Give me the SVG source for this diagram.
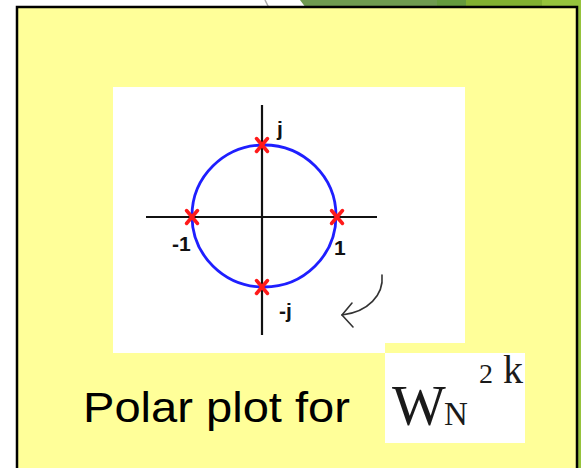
<svg xmlns="http://www.w3.org/2000/svg" width="581" height="468" viewBox="0 0 581 468">
  <style>
    .axis { stroke: #111; stroke-width: 2.2; fill: none; }
    .unit { stroke: #1f1fff; stroke-width: 2.8; fill: none; }
    .mark { stroke: #ff1a1a; stroke-width: 3.5; stroke-linecap: round; fill: none; }
    .lbl { font-family: "Liberation Sans", Arial, sans-serif; font-weight: bold; font-size: 21px; fill: #111; }
    .serif { font-family: "Liberation Serif", "Times New Roman", serif; fill: #1a1a1a; }
  </style>
  <defs>
    <path id="x" d="M-5.5,-6.5 L5.5,6.5 M5.5,-6.5 L-5.5,6.5" class="mark"/>
  </defs>
  <rect width="581" height="468" fill="#ffffff"/>
  <g id="background-top">
    <path d="M300,0 L437,0 L437,8 L306,8 Z" fill="#6f9a50"/>
    <rect x="437" y="0" width="29" height="8" fill="#659a3d"/>
    <rect x="466" y="0" width="76" height="8" fill="#82b030"/>
    <rect x="542" y="0" width="39" height="8" fill="#96c33c"/>
    <rect x="577" y="0" width="4" height="468" fill="#96c33c"/>
    <path d="M265,0 L269,8" stroke="#aaaaaa" stroke-width="1.5" fill="none"/>
  </g>
  <g id="panel">
    <rect x="17" y="7" width="560" height="470" fill="#ffff99" stroke="#000" stroke-width="2.5"/>
  </g>
  <g id="plot-image">
    <path d="M113,87 L465,87 L465,343 L385,343 L385,353 L113,353 Z" fill="#ffffff"/>
    <line class="axis" x1="146" y1="217" x2="377" y2="217"/>
    <line class="axis" x1="262" y1="105" x2="262" y2="335"/>
    <ellipse class="unit" cx="264" cy="216" rx="72" ry="71"/>
    <use href="#x" x="262" y="145"/>
    <use href="#x" x="192" y="217"/>
    <use href="#x" x="337" y="217"/>
    <use href="#x" x="262" y="287"/>
    <text class="lbl" x="277" y="136">j</text>
    <text class="lbl" x="172" y="251">-1</text>
    <text class="lbl" x="334" y="255">1</text>
    <text class="lbl" x="279" y="318">-j</text>
    <g id="rotation-arrow" stroke="#333" stroke-width="1.6" fill="none" stroke-linecap="round">
      <path d="M382,275 C384,295 368,312 342,315"/>
      <path d="M352,303 L342,315 L353,327"/>
    </g>
  </g>
  <g id="caption">
    <text x="83" y="422" font-family="Liberation Sans, Arial, sans-serif" font-size="42" fill="#000" textLength="267" lengthAdjust="spacingAndGlyphs">Polar plot for</text>
  </g>
  <g id="formula">
    <rect x="385" y="353" width="140" height="90" fill="#ffffff"/>
    <text class="serif" x="392" y="425" font-size="57">W</text>
    <text class="serif" x="444" y="425" font-size="33">N</text>
    <text class="serif" x="479" y="383" font-size="28">2</text>
    <text class="serif" x="503" y="383" font-size="40">k</text>
  </g>
</svg>
